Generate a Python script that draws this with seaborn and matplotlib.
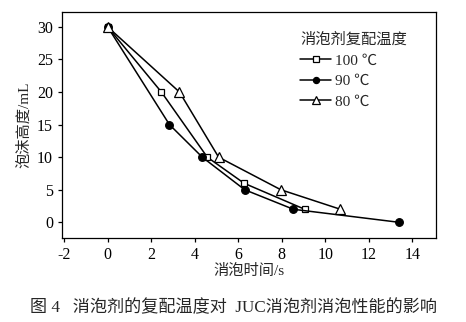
import matplotlib
matplotlib.use("Agg")
import matplotlib.pyplot as plt
import seaborn as sns
import pandas as pd

sns.set_theme(style="ticks")
plt.rcParams['font.family'] = ['Liberation Serif', 'Noto Sans CJK SC']
plt.rcParams['axes.unicode_minus'] = False

x100 = [0, 2.47, 4.58, 6.27, 9.06]
y100 = [30, 20, 10, 6, 2]
x90 = [0, 2.84, 4.35, 6.3, 8.54, 13.4]
y90 = [30, 15, 10, 5, 2, 0]
x80 = [0, 3.3, 5.1, 7.96, 10.7]
y80 = [30, 20, 10, 5, 2]
labels = ["100 ℃", "90 ℃", "80 ℃"]
legend_title = "消泡剂复配温度"
xlabel = "消泡时间/s"
ylabel = "泡沫高度/mL"
caption = "图 4   消泡剂的复配温度对  JUC消泡剂消泡性能的影响"

fig = plt.figure(figsize=(4.66, 3.22), dpi=100)
ax = fig.add_axes([0.133, 0.261, 0.803, 0.702])

series = [
    (x100, y100, labels[0], dict(marker="s", markerfacecolor="white", markersize=5)),
    (x90, y90, labels[1], dict(marker="o", markerfacecolor="black", markersize=5.5)),
    (x80, y80, labels[2], dict(marker="^", markerfacecolor="white", markersize=7.5)),
]
for xs, ys, lab, mk in series:
    df = pd.DataFrame({"x": xs, "y": ys})
    sns.lineplot(data=df, x="x", y="y", ax=ax, color="black", linewidth=1.1,
                 markeredgecolor="black", markeredgewidth=0.9, label=lab, sort=False, **mk)

ax.set_xlim(-2.1, 15.1)
ax.set_ylim(-2.4, 32.3)
ax.set_xticks(range(-2, 15, 2))
ax.set_yticks(range(0, 31, 5))
ax.tick_params(direction="out", length=3, width=0.9, labelsize=11.5, colors="black")
for s in ax.spines.values():
    s.set_color("black")
    s.set_linewidth(0.9)
ax.set_xlabel(xlabel, fontsize=11, labelpad=1)
ax.set_ylabel(ylabel, fontsize=11, labelpad=4)

leg = ax.legend(title=legend_title, frameon=False, loc="upper left",
                bbox_to_anchor=(0.6, 0.97), fontsize=11, title_fontsize=11,
                handlelength=2.0, handletextpad=0.3, labelspacing=0.45,
                markerscale=0.8)
leg._legend_box.align = "left"

fig.text(0.5, 0.045, caption, ha="center", va="center", fontsize=12.3)
fig.savefig("out.png", dpi=100)
